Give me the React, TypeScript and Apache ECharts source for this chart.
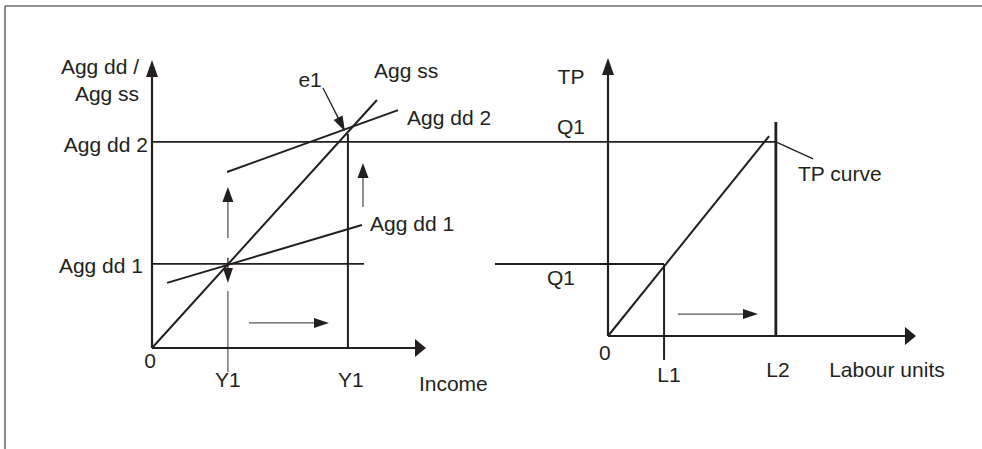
import { useEffect, useRef } from 'react';
import * as echarts from 'echarts';

type Pt = [number, number];
type Seg = [number, number, number, number];
type Label = { text: string; at: Pt; align: 'left' | 'right' | 'center' };

// ---------- Left panel: aggregate demand / aggregate supply (axis units 0–100) ----------
const aggSupply: Pt[] = [[0, 0], [82.1, 86.1]];
const aggDemand1: Pt[] = [[5.5, 22.6], [76.6, 42.7]];
const aggDemand2: Pt[] = [[27.4, 61.1], [89.8, 82.6]];
const aggDemand1Level: Pt[] = [[0, 29.2], [77.4, 29.2]];
const incomeY1b: Pt[] = [[71.5, 0], [71.5, 74.3]];
const incomeY1aGuide: Seg[] = [[27.7, 19.8, 27.7, -8.3]];
const leftAxes: Seg[] = [[0, 0, 100, 0], [0, 0, 0, 100]];
const leftShiftArrows: Seg[] = [[27.7, 38.2, 27.7, 55.9], [77, 49, 77, 64.2], [35.4, 8.7, 64.6, 8.7]];
const leftPointerArrows: Seg[] = [[27.7, 31.3, 27.7, 22.6], [62.4, 90.3, 70.4, 75.3]];
const leftLabels: Label[] = [
  { text: 'Agg dd /', at: [-4.7, 97.6], align: 'right' },
  { text: 'Agg ss', at: [-4.7, 88.5], align: 'right' },
  { text: 'Agg dd 2', at: [-1.5, 70.5], align: 'right' },
  { text: 'Agg dd 1', at: [-3.3, 28.8], align: 'right' },
  { text: '0', at: [-0.7, -4.2], align: 'center' },
  { text: 'Y1', at: [27.7, -11.1], align: 'center' },
  { text: 'Y1', at: [72.6, -11.1], align: 'center' },
  { text: 'Income', at: [97.4, -12.2], align: 'left' },
  { text: 'e1', at: [57.7, 93.4], align: 'center' },
  { text: 'Agg ss', at: [81.0, 96.5], align: 'left' },
  { text: 'Agg dd 2', at: [93.1, 80.2], align: 'left' },
  { text: 'Agg dd 1', at: [79.6, 43.4], align: 'left' },
];

// ---------- Right panel: total product vs labour units (axis units 0–100) ----------
const tpCurve: Pt[] = [[0, 0], [52.3, 71.9]];
const labourL2: Pt[] = [[54.5, 0], [54.5, 77]];
const outputQ1Guides: Seg[] = [
  [-148.1, 69.8, 54.5, 69.8],
  [-36.7, 25.9, 18.2, 25.9],
];
const labourL1: Pt[] = [[18.2, 25.9], [18.2, -8.6]];
const tpLeader: Pt[] = [[54.5, 69.8], [66.6, 63.7]];
const rightAxes: Seg[] = [[0, 0, 100, 0], [0, 0, 0, 100]];
const rightShiftArrows: Seg[] = [[22.7, 7.9, 48.7, 7.9]];
const rightLabels: Label[] = [
  { text: 'TP', at: [-12.0, 93.5], align: 'center' },
  { text: 'Q1', at: [-12.0, 75.2], align: 'center' },
  { text: 'Q1', at: [-15.3, 21.2], align: 'center' },
  { text: '0', at: [-1.0, -6.1], align: 'center' },
  { text: 'L1', at: [19.8, -14.0], align: 'center' },
  { text: 'L2', at: [55.2, -11.9], align: 'center' },
  { text: 'Labour units', at: [71.8, -12.2], align: 'left' },
  { text: 'TP curve', at: [61.7, 58.6], align: 'left' },
];

const INK = '#231f20';
const GREY = '#555555';
const FONT = '"Liberation Sans", Arial, Helvetica, sans-serif';

function lineSeries(grid: number, data: Pt[], width: number, color = INK) {
  return {
    type: 'line',
    xAxisIndex: grid,
    yAxisIndex: grid,
    data,
    symbol: 'none',
    clip: false,
    silent: true,
    lineStyle: { color, width },
    z: 3,
  };
}

function segmentSeries(grid: number, data: Seg[], width: number, color = INK) {
  return {
    type: 'custom',
    xAxisIndex: grid,
    yAxisIndex: grid,
    data,
    silent: true,
    clip: false,
    z: 3,
    renderItem: (_params: any, api: any) => {
      const p1 = api.coord([api.value(0), api.value(1)]);
      const p2 = api.coord([api.value(2), api.value(3)]);
      return {
        type: 'line',
        shape: { x1: p1[0], y1: p1[1], x2: p2[0], y2: p2[1] },
        style: { stroke: color, lineWidth: width },
      };
    },
  };
}

type ArrowOpt = { shaft: string; head: string; width: number; hlH: number; hwH: number; hlV: number; hwV: number };

function arrowSeries(grid: number, data: Seg[], opt: ArrowOpt) {
  return {
    type: 'custom',
    xAxisIndex: grid,
    yAxisIndex: grid,
    data,
    silent: true,
    clip: false,
    z: 4,
    renderItem: (_params: any, api: any) => {
      const p1 = api.coord([api.value(0), api.value(1)]);
      const p2 = api.coord([api.value(2), api.value(3)]);
      const dx = p2[0] - p1[0];
      const dy = p2[1] - p1[1];
      const len = Math.hypot(dx, dy) || 1;
      const ux = dx / len;
      const uy = dy / len;
      const horizontal = Math.abs(dx) > Math.abs(dy);
      const hl = horizontal ? opt.hlH : opt.hlV;
      const hw = horizontal ? opt.hwH : opt.hwV;
      const bx = p2[0] - ux * hl;
      const by = p2[1] - uy * hl;
      const nx = -uy;
      const ny = ux;
      return {
        type: 'group',
        children: [
          {
            type: 'line',
            shape: { x1: p1[0], y1: p1[1], x2: bx + ux * 1, y2: by + uy * 1 },
            style: { stroke: opt.shaft, lineWidth: opt.width },
          },
          {
            type: 'polygon',
            shape: {
              points: [
                [p2[0], p2[1]],
                [bx + (nx * hw) / 2, by + (ny * hw) / 2],
                [bx - (nx * hw) / 2, by - (ny * hw) / 2],
              ],
            },
            style: { fill: opt.head, stroke: 'none' },
          },
        ],
      };
    },
  };
}

function labelSeries(grid: number, labels: Label[]) {
  return {
    type: 'custom',
    xAxisIndex: grid,
    yAxisIndex: grid,
    data: labels.map((l) => l.at),
    silent: true,
    clip: false,
    z: 5,
    renderItem: (params: any, api: any) => {
      const l = labels[params.dataIndex];
      const p = api.coord([api.value(0), api.value(1)]);
      return {
        type: 'text',
        x: p[0],
        y: p[1],
        style: {
          text: l.text,
          fill: INK,
          fontSize: 21,
          fontFamily: FONT,
          align: l.align,
          verticalAlign: 'middle',
        },
      };
    },
  };
}

const axisArrow: ArrowOpt = { shaft: INK, head: INK, width: 2.2, hlH: 11, hwH: 18, hlV: 17, hwV: 12 };
const shiftArrow: ArrowOpt = { shaft: GREY, head: INK, width: 1.3, hlH: 15, hwH: 10, hlV: 15, hwV: 11 };
const pointerArrow: ArrowOpt = { shaft: INK, head: INK, width: 1.3, hlH: 15, hwH: 10, hlV: 15, hwV: 10 };

export default function App() {
  const ref = useRef<HTMLDivElement>(null);

  useEffect(() => {
    document.body.style.margin = '0';
    if (!ref.current) return;
    const chart = echarts.init(ref.current, undefined, { renderer: 'svg' });
    const axisBase = { type: 'value', min: 0, max: 100, show: false };
    chart.setOption({
      animation: false,
      backgroundColor: '#ffffff',
      grid: [
        { left: 152, top: 60, width: 274, height: 288 },
        { left: 608, top: 58, width: 308, height: 278 },
      ],
      xAxis: [
        { ...axisBase, gridIndex: 0 },
        { ...axisBase, gridIndex: 1 },
      ],
      yAxis: [
        { ...axisBase, gridIndex: 0 },
        { ...axisBase, gridIndex: 1 },
      ],
      graphic: [
        { type: 'line', shape: { x1: 5, y1: 6, x2: 982, y2: 6 }, style: { stroke: '#6e6e6e', lineWidth: 1.6 }, silent: true },
        { type: 'line', shape: { x1: 5, y1: 6, x2: 5, y2: 449 }, style: { stroke: '#6e6e6e', lineWidth: 1.6 }, silent: true },
      ],
      series: [
        // left panel
        lineSeries(0, aggSupply, 2),
        lineSeries(0, aggDemand1, 2),
        lineSeries(0, aggDemand2, 2),
        lineSeries(0, aggDemand1Level, 1.7),
        lineSeries(0, incomeY1b, 2),
        segmentSeries(0, incomeY1aGuide, 1.2, GREY),
        arrowSeries(0, leftAxes, axisArrow),
        arrowSeries(0, leftShiftArrows, shiftArrow),
        arrowSeries(0, leftPointerArrows, pointerArrow),
        labelSeries(0, leftLabels),
        // right panel
        lineSeries(1, tpCurve, 2),
        lineSeries(1, labourL2, 2.8),
        segmentSeries(1, outputQ1Guides, 1.8),
        lineSeries(1, labourL1, 2),
        lineSeries(1, tpLeader, 1.4),
        arrowSeries(1, rightAxes, axisArrow),
        arrowSeries(1, rightShiftArrows, shiftArrow),
        labelSeries(1, rightLabels),
      ],
    });
    return () => chart.dispose();
  }, []);

  return <div ref={ref} style={{ width: 982, height: 449 }} />;
}
